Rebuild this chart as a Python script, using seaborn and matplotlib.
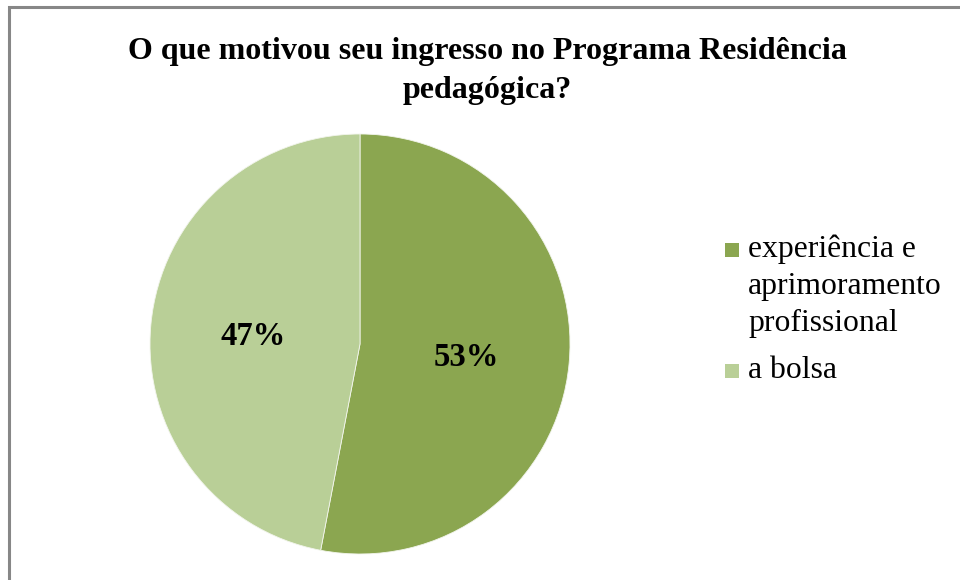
import matplotlib
matplotlib.use("Agg")
import matplotlib.pyplot as plt
import matplotlib.transforms as mtransforms
import seaborn as sns
from matplotlib.patches import Rectangle

categories = ["experiência e\naprimoramento\nprofissional", "a bolsa"]
values = [53, 47]
colors = ["#8BA650", "#B9CF97"]
title = "O que motivou seu ingresso no Programa Residência\npedagógica?"

sns.set_theme(style="white")
plt.rcParams["font.family"] = ["Liberation Serif", "DejaVu Serif"]
plt.rcParams["text.color"] = "black"

W, H = 960, 580
fig = plt.figure(figsize=(W / 100, H / 100), dpi=100)
fig.patch.set_facecolor("white")

# pie axes: center (360, 344) px, radius 210 px
cx, cy, r = 360, 344, 210
ax = fig.add_axes([(cx - r) / W, (H - cy - r) / H, 2 * r / W, 2 * r / H])
wedges, texts, autotexts = ax.pie(
    values, colors=colors, startangle=90, counterclock=False,
    autopct="%.0f%%", pctdistance=0.51,
    wedgeprops=dict(edgecolor="#F2F5EC", linewidth=0.6),
    textprops=dict(fontsize=23.5, fontweight="bold", color="black"),
)
for t in autotexts:
    t.set_transform(mtransforms.offset_copy(ax.transData, fig=fig, x=0, y=-3, units="dots"))
ax.set_xlim(-1, 1)
ax.set_ylim(-1, 1)
ax.set_aspect("equal")
ax.axis("off")

# title
fig.text(487 / W, 1 - 71 / H, title, ha="center", va="center",
         fontsize=23, fontweight="bold", linespacing=1.45, color="black")

# legend (manual, handle aligned with first line)
line_h = 37
base_y = [257, 378]
for lab, col, y in zip(categories, colors, base_y):
    fig.patches.append(Rectangle((725 / W, 1 - y / H), 14 / W, 14 / H,
                                 transform=fig.transFigure, facecolor=col,
                                 edgecolor="none"))
    nlines = lab.count("\n")
    fig.text(748 / W, 1 - (y + nlines * line_h) / H, lab, ha="left", va="baseline",
             fontsize=22.8, linespacing=1.36, color="black")

# border (left and top only visible)
fig.patches.append(Rectangle((9 / W, -0.1), 1.2, 1 - 7 / H + 0.1,
                             transform=fig.transFigure, fill=False,
                             edgecolor="#878787", linewidth=2.2))

fig.savefig("out.png", dpi=100)
